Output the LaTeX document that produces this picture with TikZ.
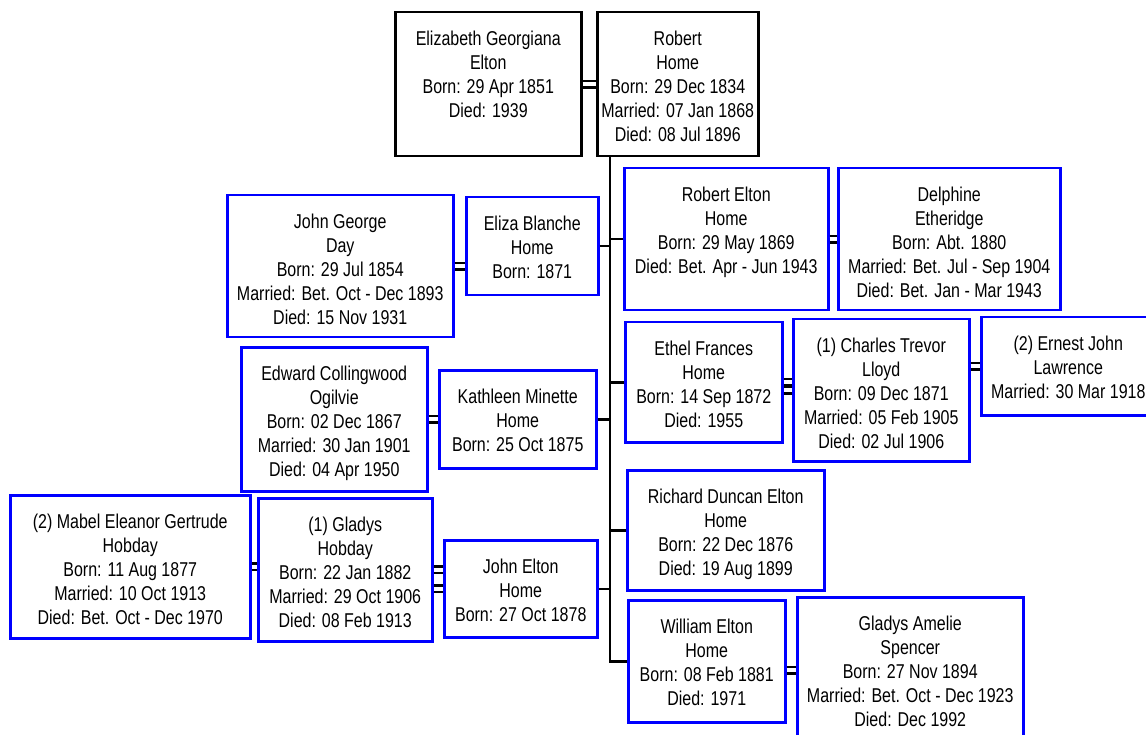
\documentclass[tikz,border=0pt]{standalone}
\usepackage{fontspec}
\newfontfamily\boxfont[FakeStretch=0.8]{Liberation Sans}
\usetikzlibrary{positioning}

\begin{document}
\begin{tikzpicture}[
    x=1pt, y=-1pt,
    person/.style 2 args={rectangle, draw=blue, line width=2.5pt, anchor=north west, inner sep=0pt,
        align=flush center, text width=#1pt, text height=33pt, text depth=#2pt-33pt,
        font=\boxfont\fontsize{20}{24}\selectfont},
    parent/.style={draw=black},
    line/.style={line width=2.5pt},
    marriage/.style={double, double distance=4pt, line width=2.5pt}
]
\useasboundingbox (0,0) rectangle (1146,735);

% parents
\node[person={186}{144}, parent] (elizabeth) at (394,11) {Elizabeth Georgiana\\Elton\\Born: 29 Apr 1851\\Died: 1939};
\node[person={161}{144}, parent] (robert) at (596,11) {Robert\\Home\\Born: 29 Dec 1834\\Married: 07 Jan 1868\\Died: 08 Jul 1896};

% children on the left of the line, with spouses
\node[person={132}{98}] (eliza) at (465,196) {Eliza Blanche\\Home\\Born: 1871};
\node[person={226}{142}] (johnday) at (226,194) {John George\\Day\\Born: 29 Jul 1854\\Married: Bet. Oct - Dec 1893\\Died: 15 Nov 1931};
\node[person={157}{98}] (kathleen) at (438,369) {Kathleen Minette\\Home\\Born: 25 Oct 1875};
\node[person={186}{144}] (edward) at (240,346) {Edward Collingwood\\Ogilvie\\Born: 02 Dec 1867\\Married: 30 Jan 1901\\Died: 04 Apr 1950};
\node[person={153}{97}] (johnelton) at (443,539) {John Elton\\Home\\Born: 27 Oct 1878};
\node[person={174}{143}] (gladys) at (257,497) {(1) Gladys\\Hobday\\Born: 22 Jan 1882\\Married: 29 Oct 1906\\Died: 08 Feb 1913};
\node[person={240}{143}] (mabel) at (9,494) {(2) Mabel Eleanor Gertrude\\Hobday\\Born: 11 Aug 1877\\Married: 10 Oct 1913\\Died: Bet. Oct - Dec 1970};

% children on the right of the line, with spouses
\node[person={204}{142}] (robertelton) at (623,167) {Robert Elton\\Home\\Born: 29 May 1869\\Died: Bet. Apr - Jun 1943};
\node[person={222}{142}] (delphine) at (837,167) {Delphine\\Etheridge\\Born: Abt. 1880\\Married: Bet. Jul - Sep 1904\\Died: Bet. Jan - Mar 1943};
\node[person={157}{120}] (ethel) at (624,321) {Ethel Frances\\Home\\Born: 14 Sep 1872\\Died: 1955};
\node[person={176}{142}] (charles) at (792,318) {(1) Charles Trevor\\Lloyd\\Born: 09 Dec 1871\\Married: 05 Feb 1905\\Died: 02 Jul 1906};
\node[person={174}{98}] (ernest) at (980,316) {(2) Ernest John\\Lawrence\\Married: 30 Mar 1918};
\node[person={197}{120}] (richard) at (626,469) {Richard Duncan Elton\\Home\\Born: 22 Dec 1876\\Died: 19 Aug 1899};
\node[person={157}{122}] (william) at (627,599) {William Elton\\Home\\Born: 08 Feb 1881\\Died: 1971};
\node[person={226}{146}] (gladysamelie) at (796,596) {Gladys Amelie\\Spencer\\Born: 27 Nov 1894\\Married: Bet. Oct - Dec 1923\\Died: Dec 1992};

% descent line
\coordinate (trunktop) at ([xshift=14pt]robert.south west);
\coordinate (trunkend) at (trunktop |- william.west);
\draw[line] (trunktop) -- (trunkend) -- (william.west);
\draw[line] (eliza.east) -- (eliza.east -| trunktop);
\draw[line] (kathleen.east) -- (kathleen.east -| trunktop);
\draw[line] (johnelton.east) -- (johnelton.east -| trunktop);
\draw[line] (robertelton.west) -- (robertelton.west -| trunktop);
\draw[line] (ethel.west) -- (ethel.west -| trunktop);
\draw[line] (richard.west) -- (richard.west -| trunktop);

% marriages
\draw[marriage] (elizabeth.east) -- (robert.west);
\draw[marriage] (johnday.east) -- (johnday.east -| eliza.west);
\draw[marriage] (edward.east) -- (kathleen.west);
\draw[marriage] (mabel.east) -- (mabel.east -| gladys.west);
\draw[marriage] (gladys.east) -- (gladys.east -| johnelton.west);
\draw[marriage] (johnelton.west) -- (johnelton.west -| gladys.east);
\draw[marriage] (robertelton.east) -- (delphine.west);
\draw[marriage] (ethel.east) -- (ethel.east -| charles.west);
\draw[marriage] (charles.west) -- (charles.west -| ethel.east);
\draw[marriage] (charles.east |- ernest.west) -- (ernest.west);
\draw[marriage] (william.east |- gladysamelie.west) -- (gladysamelie.west);
\end{tikzpicture}
\end{document}
